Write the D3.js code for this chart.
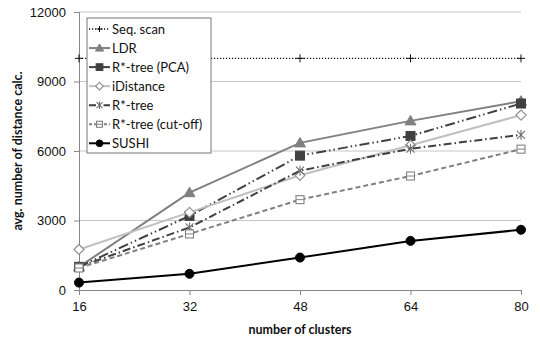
<!DOCTYPE html>
<html>
<head>
<meta charset="utf-8">
<script src="https://cdn.jsdelivr.net/npm/d3@7"></script>
<style>
  html, body { margin: 0; padding: 0; background: #fff; }
  svg { display: block; font-family: Lato, "Open Sans", "Noto Sans", sans-serif; }
</style>
</head>
<body>
<svg id="chart" width="540" height="341"></svg>
<script>
// Cluster counts on the x axis
const clusters = [16, 32, 48, 64, 80];
const yTicks = [0, 3000, 6000, 9000, 12000];

// Average number of distance calculations per method
const seqScan   = [10000, 10000, 10000, 10000, 10000];
const ldr       = [1000, 4200, 6350, 7300, 8150];
const rstarPca  = [1000, 3200, 5800, 6650, 8050];
const iDistance = [1750, 3350, 4950, 6250, 7550];
const rstar     = [1000, 2700, 5150, 6100, 6700];
const rstarCut  = [950, 2420, 3900, 4920, 6080];
const sushi     = [320, 700, 1400, 2120, 2600];

const seriesNames = ["Seq. scan", "LDR", "R*-tree (PCA)", "iDistance", "R*-tree", "R*-tree (cut-off)", "SUSHI"];
const seriesValues = [seqScan, ldr, rstarPca, iDistance, rstar, rstarCut, sushi];

const styles = [
  { stroke: "#111", width: 1.3, dash: "1.2,1.8", legendDash: "1.2,1.8", marker: "plus", mStroke: "#111", mFill: "none" },
  { stroke: "#808080", width: 2, dash: null, legendDash: null, marker: "triangle", mStroke: "#808080", mFill: "#808080" },
  { stroke: "#404040", width: 2, dash: "10,3,1.5,3,1.5,3", legendDash: null, marker: "square", mStroke: "#404040", mFill: "#404040" },
  { stroke: "#c0c0c0", width: 2, dash: null, legendDash: null, marker: "diamond", mStroke: "#909090", mFill: "#fff" },
  { stroke: "#404040", width: 2, dash: "8,3,1.5,3", legendDash: "7,3,1.5,3", marker: "asterisk", mStroke: "#707070", mFill: "none" },
  { stroke: "#808080", width: 2, dash: "5,3", legendDash: "3,2", marker: "opensquare", mStroke: "#808080", mFill: "#fff" },
  { stroke: "#000", width: 2, dash: null, legendDash: null, marker: "circle", mStroke: "#000", mFill: "#000" }
];

const svg = d3.select("#chart");
const margin = { left: 79, right: 19, top: 12, bottom: 51 };
const W = 540, H = 341;

const x = d3.scalePoint().domain(clusters).range([margin.left, W - margin.right]);
const y = d3.scaleLinear().domain([0, 12000]).range([H - margin.bottom, margin.top]);

// Horizontal gridlines
svg.append("g").selectAll("line").data(yTicks.filter(d => d > 0)).join("line")
  .attr("x1", margin.left).attr("x2", W - margin.right)
  .attr("y1", d => y(d)).attr("y2", d => y(d))
  .attr("stroke", "#c6c6c6").attr("stroke-width", 1);

// Y axis
const yAxis = svg.append("g").attr("transform", `translate(${margin.left},0)`)
  .call(d3.axisLeft(y).tickValues(yTicks).tickSize(5).tickPadding(8).tickFormat(d3.format("d")));
yAxis.select(".domain").attr("stroke", "#868686");
yAxis.selectAll(".tick line").attr("stroke", "#868686");
yAxis.selectAll("text").attr("font-size", 13).attr("fill", "#111");

// X axis
const xAxis = svg.append("g").attr("transform", `translate(0,${y(0)})`)
  .call(d3.axisBottom(x).tickSize(5).tickPadding(7).tickSizeOuter(0));
xAxis.select(".domain").attr("stroke", "#868686");
xAxis.selectAll(".tick line").attr("stroke", "#868686");
xAxis.selectAll("text").attr("font-size", 13).attr("fill", "#111");

// Axis titles
svg.append("text").attr("x", (margin.left + W - margin.right) / 2).attr("y", 334)
  .attr("text-anchor", "middle").attr("font-size", 12.5).attr("font-weight", "bold").attr("fill", "#111")
  .text("number of clusters");
svg.append("text").attr("transform", `translate(22,${(y(0) + y(12000)) / 2}) rotate(-90)`)
  .attr("text-anchor", "middle").attr("font-size", 12.5).attr("font-weight", "bold").attr("fill", "#111")
  .text("avg. number of distance calc.");

// Draws one marker symbol centred on (cx, cy), scaled by s
function drawMarker(g, type, cx, cy, st, s = 1) {
  const a = v => v * s;
  switch (type) {
    case "plus":
      g.append("path").attr("d", `M${cx - a(4)},${cy}H${cx + a(4)}M${cx},${cy - a(4)}V${cy + a(4)}`)
        .attr("stroke", st.mStroke).attr("stroke-width", 1);
      break;
    case "triangle":
      g.append("path").attr("d", `M${cx},${cy - a(5.5)}L${cx + a(5.5)},${cy + a(4)}L${cx - a(5.5)},${cy + a(4)}Z`)
        .attr("fill", st.mFill).attr("stroke", st.mStroke);
      break;
    case "square":
      g.append("rect").attr("x", cx - a(4.5)).attr("y", cy - a(4.5)).attr("width", a(9)).attr("height", a(9))
        .attr("fill", st.mFill).attr("stroke", st.mStroke);
      break;
    case "diamond":
      g.append("path").attr("d", `M${cx},${cy - a(5)}L${cx + a(5)},${cy}L${cx},${cy + a(5)}L${cx - a(5)},${cy}Z`)
        .attr("fill", st.mFill).attr("stroke", st.mStroke).attr("stroke-width", 1.2);
      break;
    case "asterisk":
      g.append("path").attr("d", `M${cx - a(4)},${cy - a(4)}L${cx + a(4)},${cy + a(4)}M${cx - a(4)},${cy + a(4)}L${cx + a(4)},${cy - a(4)}M${cx},${cy - a(5)}V${cy + a(5)}`)
        .attr("stroke", st.mStroke).attr("stroke-width", 1.1);
      break;
    case "opensquare":
      g.append("rect").attr("x", cx - a(4)).attr("y", cy - a(4)).attr("width", a(8)).attr("height", a(8))
        .attr("fill", st.mFill).attr("stroke", st.mStroke).attr("stroke-width", 1.1);
      g.append("line").attr("x1", cx - a(4)).attr("x2", cx + a(4)).attr("y1", cy).attr("y2", cy)
        .attr("stroke", st.mStroke).attr("stroke-width", 1);
      break;
    case "circle":
      g.append("circle").attr("cx", cx).attr("cy", cy).attr("r", a(4.5))
        .attr("fill", st.mFill).attr("stroke", st.mStroke);
      break;
  }
}

const line = d3.line().x((d, i) => x(clusters[i])).y(d => y(d));

// Series lines and markers
seriesValues.forEach((vals, k) => {
  const st = styles[k];
  const g = svg.append("g");
  g.append("path").datum(vals).attr("d", line)
    .attr("fill", "none").attr("stroke", st.stroke).attr("stroke-width", st.width)
    .attr("stroke-dasharray", st.dash);
  vals.forEach((v, i) => drawMarker(g, st.marker, x(clusters[i]), y(v), st));
});

// Legend
const lg = svg.append("g");
lg.append("rect").attr("x", 87).attr("y", 18).attr("width", 124).attr("height", 135)
  .attr("fill", "#fff").attr("stroke", "#777").attr("stroke-width", 1);
seriesNames.forEach((name, k) => {
  const st = styles[k];
  const cy = 29 + k * 19.05;
  lg.append("line").attr("x1", 89).attr("x2", 110).attr("y1", cy).attr("y2", cy)
    .attr("stroke", st.stroke).attr("stroke-width", st.width)
    .attr("stroke-dasharray", st.legendDash);
  drawMarker(lg, st.marker, 99.5, cy, st, 0.75);
  lg.append("text").attr("x", 112).attr("y", cy).attr("dy", "0.35em")
    .attr("font-size", 13).attr("fill", "#111").text(name);
});
</script>
</body>
</html>
